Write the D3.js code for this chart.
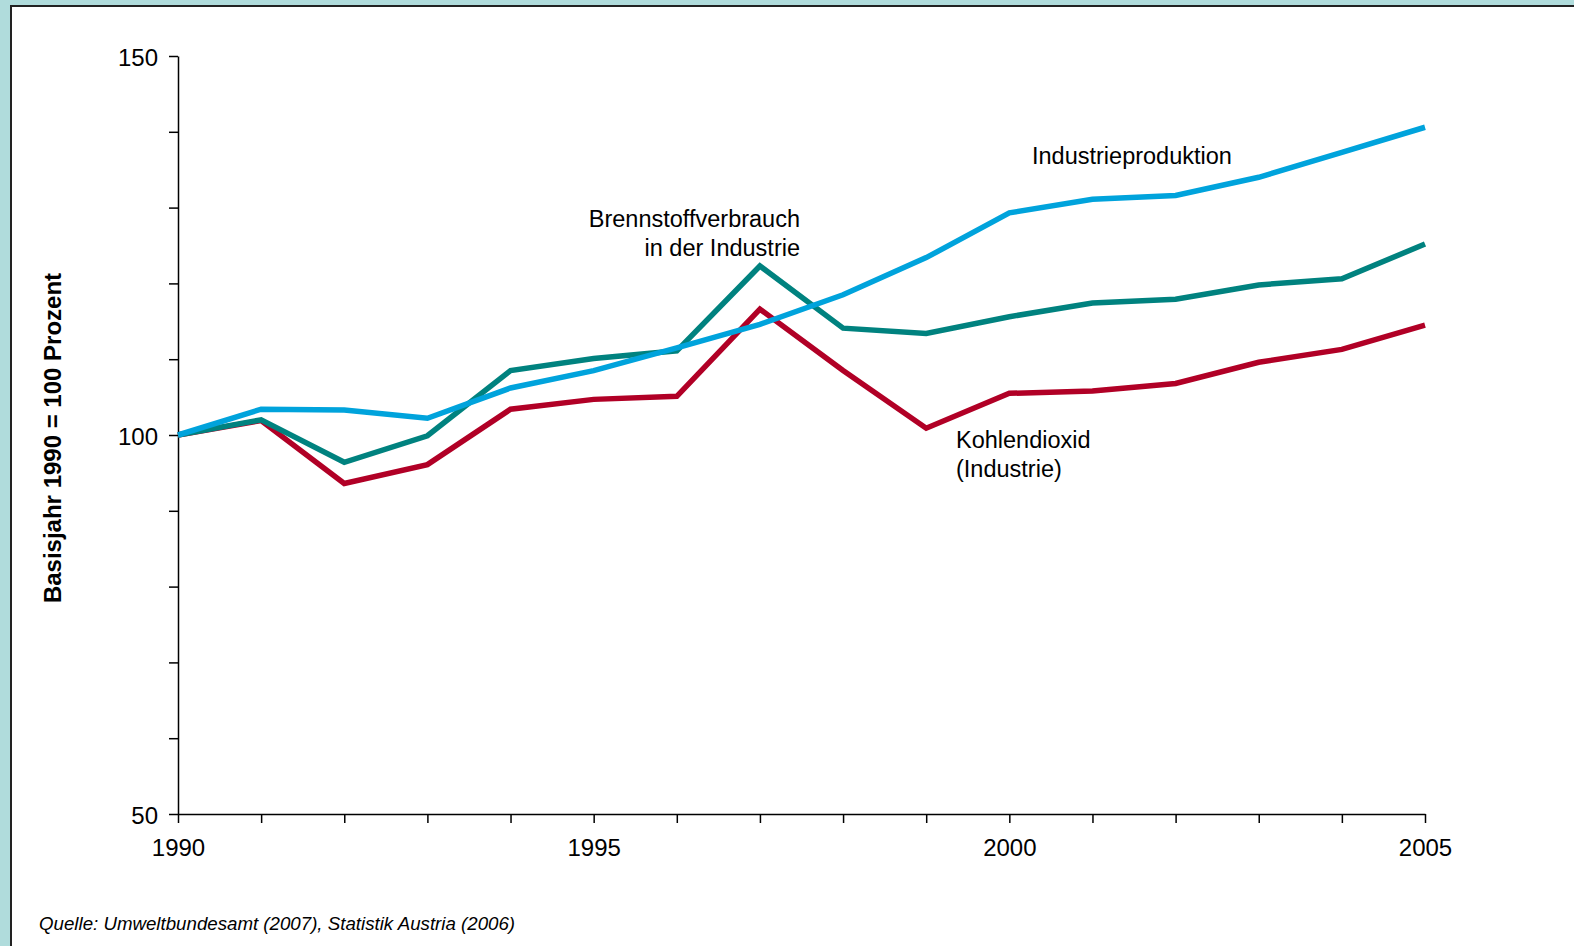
<!DOCTYPE html>
<html>
<head>
<meta charset="utf-8">
<script src="https://cdn.jsdelivr.net/npm/d3@7"></script>
<style>
  body { margin: 0; background: #b0dcdc; }
  svg { display: block; font-family: "Liberation Sans", Arial, sans-serif; }
</style>
</head>
<body>
<svg width="1574" height="946"></svg>
<script>
var years = d3.range(1990, 2006);
var industrieproduktion = [100, 103.4, 103.3, 102.2, 106.2, 108.5, 111.5, 114.6, 118.5, 123.4, 129.3, 131.1, 131.6, 134.0, 137.3, 140.6];
var brennstoff = [100, 102.0, 96.4, 99.9, 108.5, 110.1, 111.1, 122.3, 114.1, 113.4, 115.6, 117.4, 117.9, 119.8, 120.6, 125.2];
var kohlendioxid = [100, 101.9, 93.6, 96.1, 103.4, 104.7, 105.1, 116.6, 108.5, 100.9, 105.5, 105.8, 106.8, 109.6, 111.3, 114.5];
var yTicks = d3.range(50, 151, 10);
var yLabels = [50, 100, 150];
var xLabels = [1990, 1995, 2000, 2005];

var svg = d3.select("svg");

// white panel with dark edge
svg.append("rect")
  .attr("x", 11).attr("y", 6)
  .attr("width", 1600).attr("height", 1000)
  .attr("fill", "#fff")
  .attr("stroke", "#222")
  .attr("stroke-width", 2);

var x = d3.scaleLinear().domain([1990, 2005]).range([178, 1425]);
var y = d3.scaleLinear().domain([50, 150]).range([814, 56]);

var yAxis = svg.append("g")
  .attr("transform", "translate(178,0)")
  .call(d3.axisLeft(y).tickValues(yTicks).tickSize(9).tickSizeOuter(0)
    .tickFormat(d => yLabels.includes(d) ? d : ""));

var xAxis = svg.append("g")
  .attr("transform", "translate(0,814)")
  .call(d3.axisBottom(x).tickValues(years).tickSize(9).tickSizeOuter(0)
    .tickFormat(d => xLabels.includes(d) ? d : ""));

[yAxis, xAxis].forEach(a => {
  a.selectAll("path, line").attr("stroke", "#000").attr("stroke-width", 1.5);
  a.selectAll("text").attr("fill", "#000").style("font-size", "24px")
    .style("font-family", "'Liberation Sans', Arial, sans-serif");
});
yAxis.selectAll("text").attr("x", -20).attr("dy", "0.4em");
xAxis.selectAll("text").attr("y", 25);

svg.append("text")
  .attr("transform", "translate(61,438) rotate(-90)")
  .attr("text-anchor", "middle")
  .style("font-size", "24px")
  .style("font-weight", "bold")
  .text("Basisjahr 1990 = 100 Prozent");

var line = d3.line().x((d, i) => x(years[i])).y(d => y(d));

var series = [
  { values: industrieproduktion, color: "#00a3dc" },
  { values: brennstoff, color: "#00827f" },
  { values: kohlendioxid, color: "#b10026" }
];

svg.append("g").selectAll("path").data(series.slice().reverse()).enter()
  .append("path")
  .attr("d", d => line(d.values))
  .attr("fill", "none")
  .attr("stroke", d => d.color)
  .attr("stroke-width", 5.5)
  .attr("stroke-linejoin", "miter");

var labels = [
  { lines: ["Industrieproduktion"], x: 1032, y: 164, anchor: "start" },
  { lines: ["Brennstoffverbrauch", "in der Industrie"], x: 800, y: 227, anchor: "end" },
  { lines: ["Kohlendioxid", "(Industrie)"], x: 956, y: 448, anchor: "start" }
];

labels.forEach(l => {
  var t = svg.append("text")
    .attr("text-anchor", l.anchor)
    .style("font-size", "23.5px")
    .attr("fill", "#000");
  l.lines.forEach((s, i) => {
    t.append("tspan").attr("x", l.x).attr("y", l.y + i * 28.5).text(s);
  });
});

svg.append("text")
  .attr("x", 39).attr("y", 930)
  .style("font-size", "18.7px")
  .style("font-style", "italic")
  .text("Quelle: Umweltbundesamt (2007), Statistik Austria (2006)");
</script>
</body>
</html>
